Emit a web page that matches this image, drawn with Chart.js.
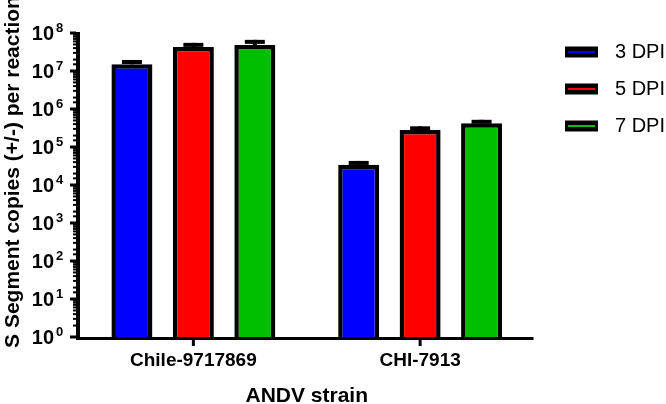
<!DOCTYPE html>
<html>
<head>
<meta charset="utf-8">
<script src="https://cdn.jsdelivr.net/npm/chart.js@4"></script>
<style>
  html, body { margin: 0; padding: 0; background: #fff; }
  #wrap { width: 666px; height: 404px; position: relative; }
</style>
</head>
<body>
<div id="wrap"><canvas id="chart"></canvas></div>
<script>
// data
const strains = ['Chile-9717869', 'CHI-7913'];
const dpiLabels = ['3 DPI', '5 DPI', '7 DPI'];
const dpi3 = [1.5e7, 3.4e4];
const dpi5 = [4.3e7, 2.8e5];
const dpi7 = [4.8e7, 4.2e5];
// upper end of the error bars
const dpi3Err = [1.95e7, 4.3e4];
const dpi5Err = [5.5e7, 3.5e5];
const dpi7Err = [6.6e7, 5.2e5];
const yTitle = 'S Segment copies (+/-) per reaction';
const xTitle = 'ANDV strain';

const colors = ['#0000ff', '#ff0000', '#00bf00'];
const FONT = "'Liberation Sans', Arial, sans-serif";

const errs = [dpi3Err, dpi5Err, dpi7Err];

const axesPlugin = {
  id: 'prismAxes',
  afterDatasetsDraw(chart) {
    const ctx = chart.ctx;
    const y = chart.scales.y;
    ctx.save();
    ctx.fillStyle = '#000';
    chart.data.datasets.forEach((ds, i) => {
      const meta = chart.getDatasetMeta(i);
      meta.data.forEach((bar, j) => {
        const top = y.getPixelForValue(ds.data[j]);
        const ep = y.getPixelForValue(errs[i][j]);
        ctx.fillRect(bar.x - 2, ep, 4, top - ep);
        ctx.fillRect(bar.x - 10, ep, 20, 4);
      });
    });
    ctx.restore();
  },
  afterDraw(chart) {
    const ctx = chart.ctx;
    const { left, right, top, bottom } = chart.chartArea;
    const y = chart.scales.y;
    const x = chart.scales.x;
    ctx.save();
    ctx.fillStyle = '#000';

    // y axis line + ticks
    ctx.fillRect(left - 4, top - 1, 4, bottom - top + 4);
    y.ticks.forEach(t => {
      const py = y.getPixelForValue(t.value);
      const lg = Math.log10(t.value);
      const major = Math.abs(lg - Math.round(lg)) < 1e-6;
      if (major) {
        ctx.fillRect(left - 10, py - 1.5, 6, 3);
        ctx.font = 'bold 20px ' + FONT;
        ctx.textAlign = 'right';
        ctx.textBaseline = 'alphabetic';
        ctx.fillText('10', 54, py + 7);
        ctx.font = 'bold 13px ' + FONT;
        ctx.textAlign = 'left';
        ctx.fillText(String(Math.round(lg)), 56, py - 1);
      } else {
        ctx.fillRect(left - 7, py - 1, 3, 2);
      }
    });

    // x axis line + ticks
    ctx.fillRect(left - 4, bottom, right - left + 4, 3);
    ctx.font = 'bold 19px ' + FONT;
    ctx.textAlign = 'center';
    ctx.textBaseline = 'middle';
    strains.forEach((s, i) => {
      const cx = x.getPixelForValue(i);
      ctx.fillRect(cx - 1.5, bottom, 3, 9);
      ctx.fillText(s, cx, 361);
    });

    // axis titles
    ctx.font = 'bold 21px ' + FONT;
    ctx.fillText(xTitle, (left + right) / 2, 396);
    ctx.save();
    ctx.translate(13, 172);
    ctx.rotate(-Math.PI / 2);
    ctx.fillText(yTitle, 0, 0);
    ctx.restore();

    // legend
    ctx.font = '20px ' + FONT;
    ctx.textAlign = 'left';
    dpiLabels.forEach((lab, i) => {
      const ly = 52 + 37 * i;
      ctx.fillStyle = '#000';
      ctx.fillRect(565, ly - 5.5, 33, 11);
      ctx.fillStyle = colors[i];
      ctx.fillRect(568, ly - 1, 27, 2);
      ctx.fillStyle = '#000';
      ctx.fillText(lab, 615, ly);
    });
    ctx.restore();
  }
};

new Chart(document.getElementById('chart'), {
  type: 'bar',
  data: {
    labels: strains,
    datasets: [dpi3, dpi5, dpi7].map((d, i) => ({
      label: dpiLabels[i],
      data: d,
      backgroundColor: colors[i],
      borderColor: '#000',
      borderWidth: 4.5,
      borderSkipped: 'bottom',
      categoryPercentage: 0.813,
      barPercentage: 0.667
    }))
  },
  options: {
    responsive: true,
    maintainAspectRatio: false,
    animation: false,
    layout: { padding: { top: 33, right: 132.5, left: 0, bottom: 0 } },
    plugins: { legend: { display: false }, tooltip: { enabled: false } },
    scales: {
      x: {
        grid: { display: false },
        border: { display: false },
        ticks: { display: false },
        afterFit: s => { s.height = 67; }
      },
      y: {
        type: 'logarithmic',
        min: 1,
        max: 1e8,
        grid: { display: false },
        border: { display: false },
        ticks: { display: false },
        afterFit: s => { s.width = 80; }
      }
    }
  },
  plugins: [axesPlugin]
});
</script>
</body>
</html>
